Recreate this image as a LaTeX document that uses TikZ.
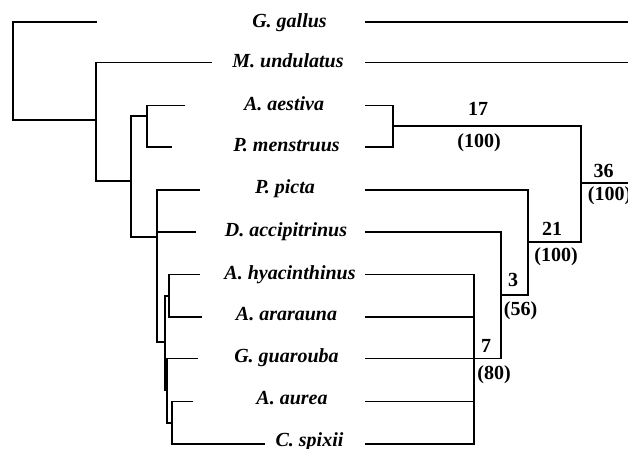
\documentclass[tikz,border=0pt]{standalone}
\usepackage{fontspec}
\setmainfont{Liberation Serif}
\begin{document}
\begin{tikzpicture}[x=1pt,y=-1pt,
  branch/.style={line width=1.3pt, line join=miter},
  taxon/.style={anchor=base, inner sep=0pt, font=\fontsize{20}{22}\selectfont\bfseries\itshape},
  score/.style={anchor=base, inner sep=0pt, font=\fontsize{20}{22}\selectfont\bfseries}]
\clip (0,0) rectangle (628,448);

% ---------- taxon names (centre column) ----------
\node[taxon] (nGa) at (289.5,27)  {G. gallus};
\node[taxon] (nMu) at (288,67)    {M. undulatus};
\node[taxon] (nAe) at (284,110)   {A. aestiva};
\node[taxon] (nPm) at (286.5,151.5) {P. menstruus};
\node[taxon] (nPp) at (285,193.5) {P. picta};
\node[taxon] (nDa) at (286,236.5) {D. accipitrinus};
\node[taxon] (nAh) at (290,279)   {A. hyacinthinus};
\node[taxon] (nAa) at (286.5,320.5) {A. ararauna};
\node[taxon] (nGg) at (286.5,362.5) {G. guarouba};
\node[taxon] (nAu) at (292,404.5) {A. aurea};
\node[taxon] (nCs) at (309.5,446) {C. spixii};

% ---------- left tree: tips and inner nodes ----------
\coordinate (tGa) at (97,22);
\coordinate (tMu) at (212,62.5);
\coordinate (tAe) at (185,105.5);
\coordinate (tPm) at (172,147);
\coordinate (tPp) at (200,190);
\coordinate (tDa) at (196,232);
\coordinate (tAh) at (200,274.5);
\coordinate (tAa) at (202,317);
\coordinate (tGg) at (198,358.5);
\coordinate (tAu) at (193,401.5);
\coordinate (tCs) at (265,444);

\coordinate (root) at (13,71);
\coordinate (n1) at (96,120);
\coordinate (n2) at (131,181);
\coordinate (n3) at (147,116);
\coordinate (n4) at (157,237);
\coordinate (n5) at (165,342);
\coordinate (n6) at (169,296);
\coordinate (n7) at (167,390);
\coordinate (n8) at (172,423);

\draw[branch] (tGa) -| (root) |- (n1);
\draw[branch] (tMu) -| (n1) |- (n2);
\draw[branch] (n3) -| (n2) |- (n4);
\draw[branch] (tAe) -| (n3) |- (tPm);
\draw[branch] (tPp) -| (n4) |- (n5);
\draw[branch] (tDa) -- (n4 |- tDa);
\draw[branch] (n6) -| (n5) |- (n7);
\draw[branch] (tAh) -| (n6) |- (tAa);
\draw[branch] (tGg) -| (n7) |- (n8);
\draw[branch] (tAu) -| (n8) |- (tCs);

% ---------- right tree: leaf starts and clades ----------
\coordinate (sGa) at (365,22);
\coordinate (sMu) at (365,62.5);
\coordinate (sAe) at (365,105.5);
\coordinate (sPm) at (365,147);
\coordinate (sPp) at (365,190);
\coordinate (sDa) at (365,232);
\coordinate (sAh) at (365,274.5);
\coordinate (sAa) at (365,317);
\coordinate (sGg) at (365,358.5);
\coordinate (sAu) at (365,401.5);
\coordinate (sCs) at (365,444);
\coordinate (eGa) at (630,22);
\coordinate (eMu) at (630,62.5);

\coordinate (c17) at (393,126);
\coordinate (c36) at (581,183);
\coordinate (e36) at (630,183);
\coordinate (c21) at (528,242);
\coordinate (c3)  at (501,295);
\coordinate (c7)  at (474,358.5);

\draw[branch] (sGa) -- (eGa);
\draw[branch] (sMu) -- (eMu);
\draw[branch] (sAe) -| (c17) |- (sPm);
\draw[branch] (c17) -| (c36) |- (c21);
\draw[branch] (c36) -- (e36);
\draw[branch] (sPp) -| (c21) |- (c3);
\draw[branch] (sDa) -| (c3) |- (c7);
\draw[branch] (sAh) -| (c7) |- (sCs);
\draw[branch] (sAa) -- (c7 |- sAa);
\draw[branch] (sGg) -- (c7);
\draw[branch] (sAu) -- (c7 |- sAu);

% ---------- branch scores ----------
\node[score] (b17) at (478,115)   {17};
\node[score] (p17) at (479,147.5) {(100)};
\node[score] (b36) at (603.5,177) {36};
\node[score] (p36) at (609.5,200) {(100)};
\node[score] (b21) at (552,235)   {21};
\node[score] (p21) at (556,261)   {(100)};
\node[score] (b3)  at (513,286.5) {3};
\node[score] (p3)  at (520.5,315) {(56)};
\node[score] (b7)  at (486,352.5) {7};
\node[score] (p7)  at (494,379)   {(80)};
\end{tikzpicture}
\end{document}
